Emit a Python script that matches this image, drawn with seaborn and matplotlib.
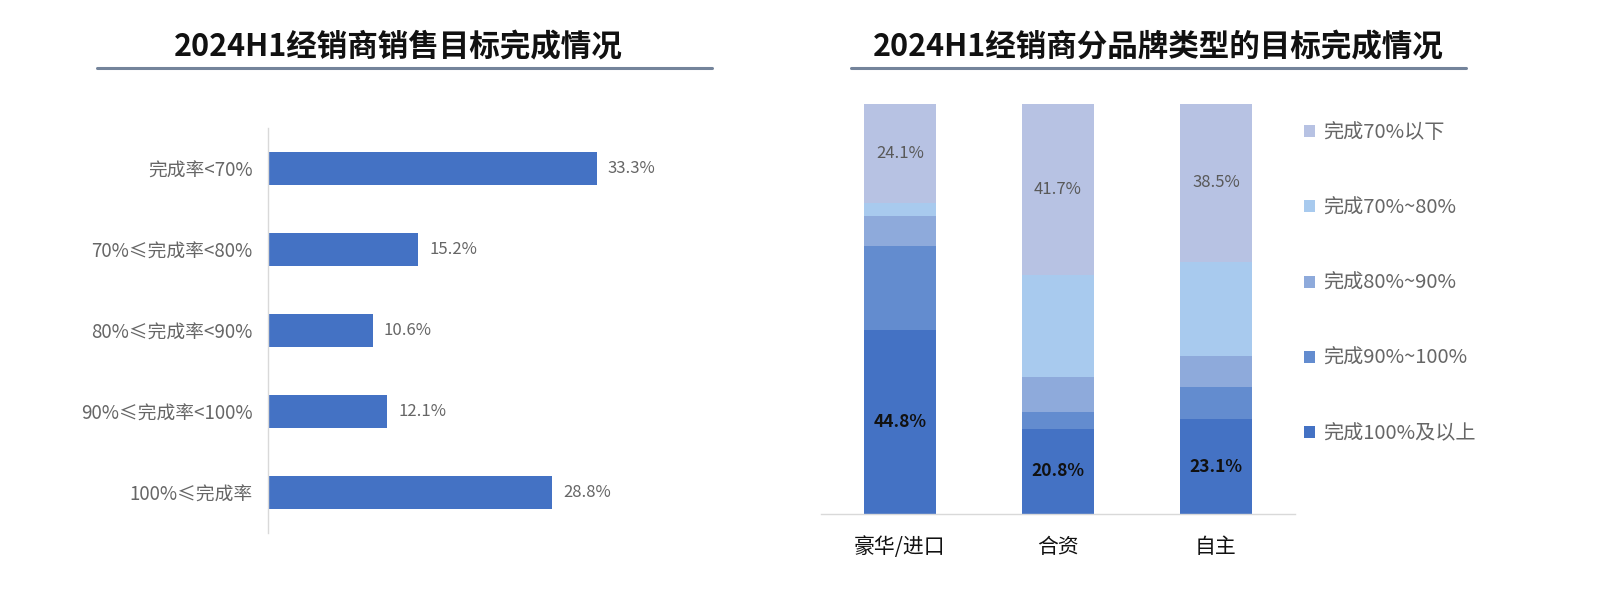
import numpy as np
import pandas as pd
import matplotlib
matplotlib.use('Agg')
import matplotlib.pyplot as plt
import seaborn as sns
from matplotlib.patches import Patch
from matplotlib.lines import Line2D

sns.set_theme(style='white')
plt.rcParams['font.family'] = ['Noto Sans CJK SC', 'DejaVu Sans']

left_title = '2024H1经销商销售目标完成情况'
right_title = '2024H1经销商分品牌类型的目标完成情况'
rate_labels = ['完成率<70%', '70%≤完成率<80%', '80%≤完成率<90%', '90%≤完成率<100%', '100%≤完成率']
rate_values = [33.3, 15.2, 10.6, 12.1, 28.8]

brands = ['豪华/进口', '合资', '自主']
seg_names = ['完成100%及以上', '完成90%~100%', '完成80%~90%', '完成70%~80%', '完成70%以下']
seg_100 = [44.8, 20.8, 23.1]
seg_90 = [20.6, 4.2, 7.9]
seg_80 = [7.2, 8.3, 7.6]
seg_70 = [3.3, 25.0, 22.9]
seg_lt70 = [24.1, 41.7, 38.5]
seg_colors = ['#4472C4', '#638CCF', '#8EAADB', '#A8CAEE', '#B7C2E3']

W, H = 1600, 604
fig = plt.figure(figsize=(16, 6.04), dpi=100)

def fx(px):
    return px / W

def fy(py):
    return 1 - py / H

# Titles and underline
fig.text(fx(398), fy(47), left_title, ha='center', va='center', fontsize=22, fontweight='bold', color='#111111')
fig.text(fx(1158), fy(47), right_title, ha='center', va='center', fontsize=22, fontweight='bold', color='#111111')
fig.add_artist(Line2D([fx(97), fx(712)], [fy(68), fy(68)], color='#74849B', lw=2.2))
fig.add_artist(Line2D([fx(851), fx(1466)], [fy(68), fy(68)], color='#74849B', lw=2.2))

# Left chart
ax1 = fig.add_axes([fx(268), fy(533), fx(663) - fx(268), fy(128) - fy(533)])
df1 = pd.DataFrame({'label': rate_labels, 'value': rate_values})
sns.barplot(data=df1, x='value', y='label', orient='h', color='#4472C4', saturation=1,
            width=0.4, ax=ax1, order=rate_labels, linewidth=0, edgecolor='none')
ax1.set_xlim(0, 40)
ax1.set_ylim(4.5, -0.5)
ax1.bar_label(ax1.containers[0], labels=[f'{v}%' for v in rate_values], padding=8,
              color='#666666', fontsize=12)
ax1.set_xlabel('')
ax1.set_ylabel('')
ax1.set_xticks([])
ax1.tick_params(axis='y', length=0, pad=11, labelsize=13.5, labelcolor='#666666')
for s in ['top', 'right', 'bottom']:
    ax1.spines[s].set_visible(False)
ax1.spines['left'].set_color('#D9D9D9')
ax1.spines['left'].set_linewidth(1)

# Right chart (stacked, drawn as cumulative overlays)
ax2 = fig.add_axes([fx(821), fy(514), fx(1295) - fx(821), fy(104) - fy(514)])
segs = [seg_100, seg_90, seg_80, seg_70, seg_lt70]
cums = np.cumsum(np.array(segs), axis=0)
for k in reversed(range(len(segs))):
    dfk = pd.DataFrame({'brand': brands, 'value': cums[k]})
    sns.barplot(data=dfk, x='brand', y='value', color=seg_colors[k], saturation=1,
                width=0.45, ax=ax2, order=brands, linewidth=0, edgecolor='none')
ax2.set_ylim(0, 100)
ax2.set_xlim(-0.5, 2.5)
for i in range(len(brands)):
    ax2.text(i, seg_100[i] / 2, f'{seg_100[i]}%', ha='center', va='center',
             fontsize=12.5, fontweight='bold', color='#111111')
    ax2.text(i, cums[-1][i] - seg_lt70[i] / 2, f'{seg_lt70[i]}%', ha='center', va='center',
             fontsize=12, color='#595959')
ax2.set_xlabel('')
ax2.set_ylabel('')
ax2.set_yticks([])
ax2.tick_params(axis='x', length=0, pad=16, labelsize=15, labelcolor='#111111')
for s in ['top', 'right', 'left']:
    ax2.spines[s].set_visible(False)
ax2.spines['bottom'].set_color('#D9D9D9')
ax2.spines['bottom'].set_linewidth(1)

handles = [Patch(facecolor=seg_colors[k], edgecolor='none', label=seg_names[k])
           for k in reversed(range(len(segs)))]
leg = ax2.legend(handles=handles, loc='upper left', bbox_to_anchor=(fx(1304), fy(122)),
                 bbox_transform=fig.transFigure, frameon=False, fontsize=14.5,
                 handlelength=0.55, handleheight=0.55, handletextpad=0.4, labelspacing=2.7,
                 borderaxespad=0, borderpad=0)
for t in leg.get_texts():
    t.set_color('#666666')

fig.savefig('out.png', dpi=100, facecolor='white')
